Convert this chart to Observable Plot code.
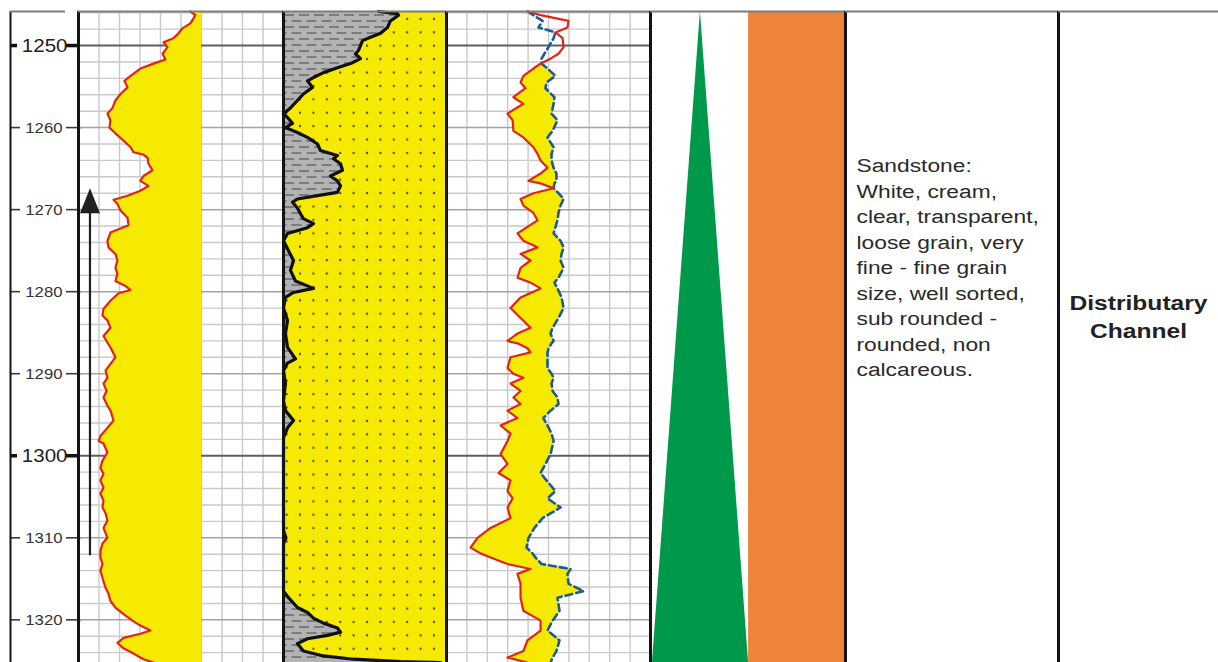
<!DOCTYPE html>
<html><head><meta charset="utf-8">
<script src="https://cdn.jsdelivr.net/npm/d3@7"></script>
<script src="https://cdn.jsdelivr.net/npm/@observablehq/plot@0.6"></script>
<style>
body{margin:0;background:#fff;}
#chart{position:relative;width:1218px;height:662px;overflow:hidden;background:#fff;}
#chart > div{position:absolute;top:0;}
</style></head><body><div id="chart"></div>
<script>
// ---------------- DATA ----------------
const DEPTH_TOP = 1245.85, DEPTH_BOTTOM = 1325.2;
const majorDepths = [1250, 1300];
const minorDepths = [1260, 1270, 1280, 1290, 1310, 1320];

// Track 1: gamma ray (0-100 track units), sand fill to baseline
const grDepth = [1245.85,1246.3,1247.3,1247.9,1248.5,1249.1,1249.6,1250.2,1251.0,1251.7,
1252.2,1252.8,1253.7,1254.3,1255.1,1255.9,1256.7,1257.6,1258.3,1259.1,
1260.0,1260.7,1261.6,1262.4,1263.0,1263.3,1263.7,1264.4,1265.2,1265.9,
1266.5,1267.1,1267.7,1268.3,1268.8,1269.3,1270.1,1271.0,1271.9,1272.8,
1273.8,1274.6,1275.4,1276.2,1277.1,1277.8,1278.7,1279.3,1279.8,1280.2,
1281.1,1282.1,1282.9,1283.5,1284.4,1285.4,1286.2,1286.8,1288.0,1288.8,
1289.6,1290.5,1291.2,1292.1,1292.9,1293.9,1294.5,1295.7,1296.6,1297.6,
1298.2,1298.5,1299.6,1300.6,1301.5,1302.2,1303.0,1303.9,1304.6,1305.5,
1306.3,1307.0,1307.9,1308.8,1310.0,1310.7,1311.6,1312.4,1313.2,1314.0,
1314.9,1316.1,1316.8,1317.7,1318.5,1319.3,1320.1,1320.7,1321.3,1321.7,
1322.2,1322.8,1323.4,1324.1,1324.8,1325.2];
const grValue = [54.6,57,54.6,50.7,48.8,46.3,41.5,43.4,41,42.4,
36.6,30.2,25.4,22.4,23.9,20.5,18,16.6,14.1,15.6,
15.1,18,22,25.4,26.8,31.7,33.7,34.1,36.1,31.7,
30.2,34.1,30.2,23.9,17.1,19,20.5,23.9,24.4,15.6,
14.1,14.6,18,19,18,19,18,22.9,25.4,19.5,
15.6,12.2,11.7,14.1,15.6,12.2,14.1,15.6,18,15.6,
13.2,14.1,12.2,13.7,12.2,14.1,15.6,17.1,14.1,10.7,
9.8,12.2,14.1,11.7,10.7,12.2,10.7,12.2,10.7,12.2,
11.7,13.2,14.1,12.2,14.1,11.7,10.7,10.7,11.7,10.7,
11.7,13.2,14.6,15.6,18,22,26.3,30.2,35.1,30.2,
22,19,21.5,26.8,31.7,36.6];
const grSandBase = 60;
// upward arrow (trend) in track 1
const trendArrow = {x: 5.6, top: 1267.4, bottom: 1312.2};

// Track 2: shale volume (0-100)
const vshDepth = [1245.85,1246.1,1246.3,1247.0,1247.8,1248.5,1249.0,1249.4,1250.0,1250.6,
1251.0,1251.6,1252.2,1252.7,1253.3,1253.9,1254.3,1255.1,1255.9,1256.7,
1257.6,1258.3,1258.9,1259.5,1260.0,1260.6,1261.2,1262.0,1262.8,1263.4,
1263.8,1264.4,1265.2,1265.9,1266.5,1267.1,1267.9,1268.3,1268.7,1269.1,
1269.8,1270.5,1271.1,1271.7,1272.2,1272.9,1273.8,1275.0,1276.2,1277.4,
1278.7,1279.6,1280.1,1280.7,1282.0,1283.5,1285.1,1286.8,1288.2,1288.7,
1289.6,1291.2,1293.3,1294.5,1295.7,1296.6,1297.8,1309.1,1310.0,1310.7,
1316.5,1317.3,1318.5,1319.1,1319.8,1320.4,1321.0,1321.5,1321.9,1322.3,
1322.9,1323.8,1324.4,1324.8,1325.1,1325.2];
const vshValue = [58.6,70.4,71,66,64.2,59.9,53.7,48.8,47.5,46.3,
44.4,47.5,41.4,33.3,24.7,18.5,14.8,17.9,12.3,8.6,
4.3,0,3.1,5.6,1.2,8.6,14.8,21,22.8,33.3,
30.9,35.2,36.4,29,33.3,35.2,33.3,21,8.6,5.6,
8.6,10.5,12.3,18.5,14.8,2.5,0,3.1,6.2,4.3,
7.4,18.5,6.2,1.2,0,2.5,1.2,2.5,7.4,2.5,
0,1.2,0,1.2,6.2,2.5,0,0,1.5,0,
0,3.1,8.6,14.8,18.5,24.7,33.3,35.2,27.2,14.8,
8.6,12.3,24.7,43.2,72.2,97];

// Track 3: two resistivity-type curves (0-100)
const resDepth = [1245.85,1246.3,1247.0,1247.8,1248.4,1249.1,1250.2,1251.0,1251.6,1252.2,
1252.8,1253.7,1254.5,1255.2,1256.3,1257.1,1258.3,1259.1,1260.4,1261.2,
1262.4,1263.2,1264.0,1264.9,1265.6,1266.5,1266.8,1267.4,1268.0,1268.7,
1269.5,1270.4,1271.3,1272.9,1273.8,1274.6,1275.4,1276.2,1277.1,1278.3,
1278.9,1279.6,1280.7,1282.0,1283.2,1284.4,1285.1,1286.0,1286.3,1286.9,
1287.4,1288.0,1289.3,1290.0,1290.5,1291.2,1292.1,1292.9,1293.7,1294.5,
1295.4,1296.3,1297.3,1298.2,1299.8,1301.0,1302.1,1303.0,1304.3,1305.2,
1306.3,1307.6,1308.8,1310.0,1311.2,1311.9,1312.4,1313.2,1313.8,1314.4,
1315.6,1316.5,1317.3,1318.9,1320.1,1321.3,1322.5,1323.8,1324.6,1325.2];
const resRed = [40.2,46.1,59.8,59.3,53.4,56.9,57.4,54.9,51,46.1,
42.6,37.7,36.3,38.7,32.8,37.7,29.9,32.4,32.8,37.7,
42.6,44.6,46.1,49.5,46.1,40.2,46.1,52.5,42.6,36.3,
37.7,42.6,44.6,34.8,37.7,44.6,36.3,41.2,36.3,34.8,
41.2,46.1,36.3,31.4,36.3,41.2,34.8,29.9,34.8,39.7,
41.2,31.4,29.9,32.8,37.7,31.4,36.3,32.8,36.3,29.9,
34.8,26.5,31.4,29.9,26.5,29.9,25.5,31.4,29.9,32.4,
29.9,31.4,21.6,15.2,11.8,16.7,21.6,29.9,41.2,34.8,
36.3,36.3,36.3,37.7,46.1,46.1,39.7,37.7,29.9,39.7];
const resBlue = [39.7,42.6,47.1,45.1,53.4,52.5,50,48,46.6,46.6,
49.5,53.4,49,48.5,52.9,52.5,51.5,54.4,52,49.5,
52.5,51.5,51.5,52.5,53.9,53.9,52.9,52.5,54.9,57.4,
55.9,54.9,54.4,52.5,55.9,57.4,56.4,55.9,57.4,54.9,
52.9,54.4,56.4,57.4,54.9,52,51,52.5,51.5,50,
49.5,49.5,49.5,51.5,52.5,51.5,52,54.4,54.9,51,
47.5,49.5,51.5,52.5,51,48.5,46.1,49,53.4,49.5,
55.9,47.1,43.1,40.2,39.2,42.2,43.6,46.6,60.8,59.3,
59.8,67.2,54.4,55.4,52,49.5,55.4,53.9,52,51];

// Track 4: grain-size trend triangle and lithology column
const trendDepth = [DEPTH_TOP, DEPTH_BOTTOM];
const trendLeft = [25.6, 1];
const trendRight = [25.6, 50.3];
const lithoColumn = [{top: DEPTH_TOP, bottom: DEPTH_BOTTOM, left: 50.3, right: 100}];

// Description and facies
const descLines = ["Sandstone:", "White, cream,", "clear, transparent,", "loose grain, very",
  "fine - fine grain", "size, well sorted,", "sub rounded -", "rounded, non", "calcareous."];
const descDepth = 1263.2;
const faciesLines = ["Distributary", "Channel"];
const faciesDepth = 1279.7;

// ---------------- STYLE / LAYOUT ----------------
const FONT = '"Liberation Sans", Arial, Helvetica, sans-serif';
const YELLOW = "#f6ea00", RED = "#e2231a", BLUE = "#1d5a9b", GREEN = "#00984a", ORANGE = "#ee8437";
const H = 662, TOP = 11;
const gridMinor = d3.range(1246, 1326, 2).filter(d => d % 10 !== 0);
const gridTen = d3.range(1250, 1326, 10).filter(d => d % 50 !== 0);
const gridFifty = [1250, 1300];
const gridX = d3.range(10, 100, 10);

const chart = document.getElementById("chart");
function place(svg, left, width) {
  const div = document.createElement("div");
  div.style.left = left + "px";
  div.style.width = width + "px";
  div.appendChild(svg);
  chart.appendChild(div);
}
function trackPlot(width, marks, o = {}) {
  return Plot.plot({
    width, height: H, marginTop: TOP, marginBottom: 0,
    marginLeft: o.ml ?? 0, marginRight: o.mr ?? 0,
    x: {domain: o.xDomain ?? [0, 100], axis: null},
    y: {domain: [DEPTH_TOP, DEPTH_BOTTOM], reverse: true, axis: null},
    style: {background: "none", overflow: "visible", fontFamily: FONT, color: "#222"},
    marks
  });
}
function stretchText(svg, sx) {
  svg.querySelectorAll('g[aria-label="text"] text').forEach(t => {
    const tr = t.getAttribute("transform") || "";
    let px = 0, py = 0;
    const m = /translate\(\s*([-\d.e]+)[\s,]*([-\d.e]*)\s*\)/.exec(tr);
    if (m) { px = +m[1]; py = +(m[2] || 0); }
    else { px = +(t.getAttribute("x") || 0); py = +(t.getAttribute("y") || 0); }
    t.setAttribute("transform", `translate(${px},${py}) scale(${sx},1) translate(${-px},${-py}) ${tr}`);
  });
}
function addDefs(svg, html) {
  const defs = document.createElementNS("http://www.w3.org/2000/svg", "defs");
  defs.innerHTML = html;
  svg.insertBefore(defs, svg.firstChild);
}
const topLine = () => Plot.ruleY([DEPTH_TOP], {stroke: "#7d7d7d", strokeWidth: 2});
const border = (v) => Plot.ruleX([v], {stroke: "#141414", strokeWidth: 3});
const gridMarks = () => [
  Plot.ruleX(gridX, {stroke: "#c9c9c9", strokeWidth: 1.4}),
  Plot.ruleY(gridMinor, {stroke: "#c9c9c9", strokeWidth: 1.4}),
  Plot.ruleY(gridTen, {stroke: "#a3a3a3", strokeWidth: 1.5}),
  Plot.ruleY(gridFifty, {stroke: "#5e5e5e", strokeWidth: 2})
];

// ---------------- DEPTH COLUMN ----------------
{
  const svg = trackPlot(78, [
    Plot.axisY(minorDepths, {anchor: "left", tickSize: -10, tickFormat: () => "", stroke: "#3a3a3a", strokeWidth: 1.6}),
    Plot.axisY(minorDepths, {anchor: "right", tickSize: 15, tickFormat: () => "", stroke: "#3a3a3a", strokeWidth: 1.6}),
    Plot.axisY(majorDepths, {anchor: "left", tickSize: -7, tickFormat: () => "", stroke: "#111", strokeWidth: 3.5}),
    Plot.axisY(majorDepths, {anchor: "right", tickSize: 12, tickFormat: () => "", stroke: "#111", strokeWidth: 3.5}),
    Plot.text(minorDepths, {y: d => d, text: d => String(d), frameAnchor: "right", textAnchor: "end", dx: -3, fontSize: 15.5, fill: "#333"}),
    Plot.text(majorDepths, {y: d => d, text: d => String(d), frameAnchor: "right", textAnchor: "end", dx: 2, fontSize: 19, fill: "#222"}),
    Plot.ruleX([0], {stroke: "#141414", strokeWidth: 2}),
    topLine()
  ], {ml: 10, mr: 13, xDomain: [0, 1]});
  stretchText(svg, 1.08);
  place(svg, 0, 78);
}

// ---------------- TRACK 1: GR ----------------
{
  const gr = grDepth.map((d, i) => ({depth: d, v: grValue[i]}));
  const arrowHead = {draw(ctx) { ctx.moveTo(0, 0); ctx.lineTo(10, 25); ctx.lineTo(-10, 25); ctx.closePath(); }};
  const svg = trackPlot(205, [
    ...gridMarks(),
    Plot.areaX(gr, {y: "depth", x1: "v", x2: () => grSandBase, fill: YELLOW, curve: "linear"}),
    Plot.line(gr, {y: "depth", x: "v", stroke: RED, strokeWidth: 2.2, curve: "linear"}),
    Plot.ruleX([trendArrow], {x: "x", y1: "bottom", y2: d => d.top + 2.5, stroke: "#231f20", strokeWidth: 2.2}),
    Plot.dot([trendArrow], {x: "x", y: "top", symbol: arrowHead, fill: "#231f20", stroke: "none"}),
    border(0),
    topLine()
  ]);
  place(svg, 78, 205);
}

// ---------------- TRACK 2: LITHOLOGY FILL ----------------
{
  const vsh = vshDepth.map((d, i) => ({depth: d, v: vshValue[i]}));
  const svg = trackPlot(162, [
    Plot.areaX(vsh, {y: "depth", x1: () => 0, x2: "v", fill: "url(#shaleDash)", curve: "linear"}),
    Plot.areaX(vsh, {y: "depth", x1: "v", x2: () => 100, fill: "url(#sandDots)", curve: "linear"}),
    Plot.line(vsh, {y: "depth", x: "v", stroke: "#111", strokeWidth: 3.2, curve: "linear", strokeLinejoin: "round"}),
    border(0),
    topLine()
  ]);
  addDefs(svg, `
    <pattern id="sandDots" patternUnits="userSpaceOnUse" x="10.3" y="12.2" width="13.4" height="13.4">
      <rect width="13.4" height="13.4" fill="${YELLOW}"/>
      <circle cx="6.7" cy="6.7" r="1.15" fill="#4b4a30"/>
    </pattern>
    <pattern id="shaleDash" patternUnits="userSpaceOnUse" width="15" height="12">
      <rect width="15" height="12" fill="#b3b3b3"/>
      <path d="M1,3H11M8.5,9H15M0,9H3.5" stroke="#6a6a6a" stroke-width="1.4"/>
    </pattern>`);
  place(svg, 283, 162);
}

// ---------------- TRACK 3: TWO CURVES ----------------
{
  const res = resDepth.map((d, i) => ({depth: d, red: resRed[i], blue: resBlue[i]}));
  const svg = trackPlot(204, [
    ...gridMarks(),
    Plot.areaX(res, {y: "depth", x1: "red", x2: d => Math.max(d.red, d.blue), fill: YELLOW, curve: "linear"}),
    Plot.line(res, {y: "depth", x: "blue", stroke: BLUE, strokeWidth: 2.6, strokeDasharray: "7,4", curve: "linear"}),
    Plot.line(res, {y: "depth", x: "red", stroke: RED, strokeWidth: 2.2, curve: "linear"}),
    border(0),
    topLine()
  ]);
  place(svg, 446, 204);
}

// ---------------- TRACK 4: TREND + LITHO COLOUR ----------------
{
  const tri = trendDepth.map((d, i) => ({depth: d, l: trendLeft[i], r: trendRight[i]}));
  const svg = trackPlot(195, [
    Plot.areaX(tri, {y: "depth", x1: "l", x2: "r", fill: GREEN, curve: "linear"}),
    Plot.rect(lithoColumn, {x1: "left", x2: "right", y1: "top", y2: "bottom", fill: ORANGE}),
    border(0),
    topLine()
  ]);
  place(svg, 650, 195);
}

// ---------------- TRACK 5: DESCRIPTION ----------------
{
  const svg = trackPlot(213, [
    Plot.text([descLines.join("\n")], {y: () => descDepth, text: d => d, frameAnchor: "left", textAnchor: "start",
      lineAnchor: "top", lineHeight: 1.435, dx: 11, fontSize: 17.8, fill: "#2a2a2a"}),
    border(0),
    topLine()
  ]);
  stretchText(svg, 1.28);
  place(svg, 845, 213);
}

// ---------------- TRACK 6: FACIES ----------------
{
  const svg = trackPlot(160, [
    Plot.text([faciesLines.join("\n")], {y: () => faciesDepth, text: d => d, frameAnchor: "middle", textAnchor: "middle",
      lineAnchor: "top", lineHeight: 1.4, fontSize: 20.5, fontWeight: "bold", fill: "#222"}),
    border(0),
    topLine()
  ]);
  stretchText(svg, 1.2);
  place(svg, 1058, 160);
}
</script></body></html>
